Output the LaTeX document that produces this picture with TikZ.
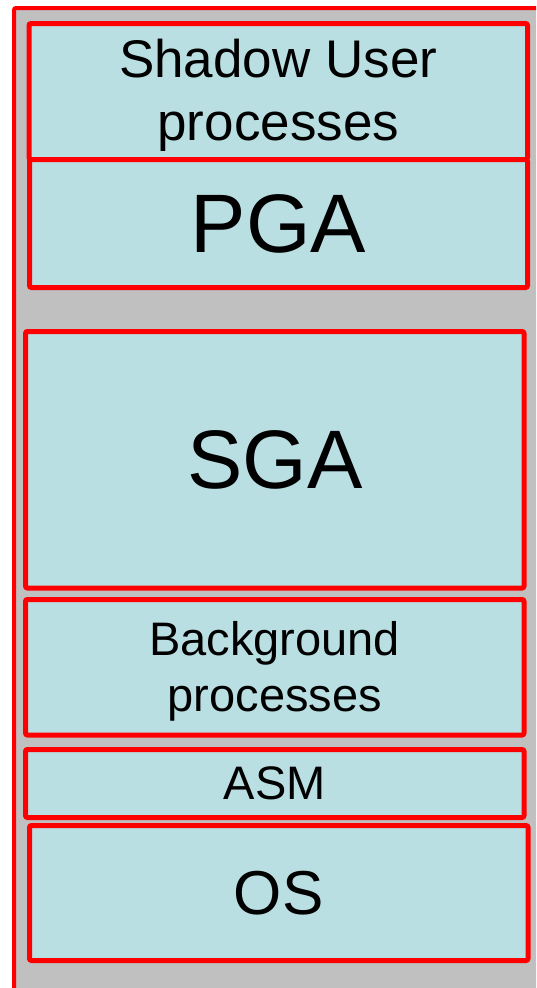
\documentclass[tikz,border=0pt]{standalone}
\usepackage{fontspec}
\setmainfont{Liberation Sans}
\definecolor{layerfill}{HTML}{B9DFE3}
\definecolor{backfill}{HTML}{C0C0C0}
\begin{document}
\begin{tikzpicture}[x=1pt,y=-1pt,
  layer/.style={draw=red, line width=5pt, fill=layerfill, rounded corners=2pt,
    inner sep=0pt},
  label/.style={inner sep=0pt, align=center, text=black},
  big/.style={font=\fontsize{83}{90}\selectfont},
  mid/.style={font=\fontsize{53}{63}\selectfont},
  small/.style={font=\fontsize{47}{56}\selectfont},
  os/.style={font=\fontsize{62}{70}\selectfont}]
\useasboundingbox (0,0) rectangle (536,988);
\clip (0,0) rectangle (536,988);
% enclosing memory region
\draw[draw=red, line width=4pt, fill=backfill, rounded corners=2pt] (14,8) rectangle (580,1030);
% memory layers
\node[layer, minimum width=498.5pt, minimum height=136pt] (shadow) at (278.25,91.5) {};
\node[layer, minimum width=498pt, minimum height=128pt] (pga) at (278.5,223.5) {};
\node[layer, minimum width=498.5pt, minimum height=256.5pt] (sga) at (274.75,459.75) {};
\node[layer, minimum width=498.5pt, minimum height=135.5pt] (bg) at (274.75,667.25) {};
\node[layer, minimum width=498.5pt, minimum height=68pt] (asm) at (274.75,783.5) {};
\node[layer, minimum width=498.5pt, minimum height=135pt] (os) at (278.75,893) {};
% layer names
\node[label, mid] (shadowtext) at ([yshift=-4pt]shadow.center) {Shadow User\\processes};
\node[label, big] (pgatext) at (pga.center) {PGA};
\node[label, big] (sgatext) at (sga.center) {SGA};
\node[label, small] (bgtext) at ([yshift=-4pt]bg.center) {Background\\processes};
\node[label, small] (asmtext) at (asm.center) {ASM};
\node[label, os] (ostext) at (os.center) {OS};
\end{tikzpicture}
\end{document}
